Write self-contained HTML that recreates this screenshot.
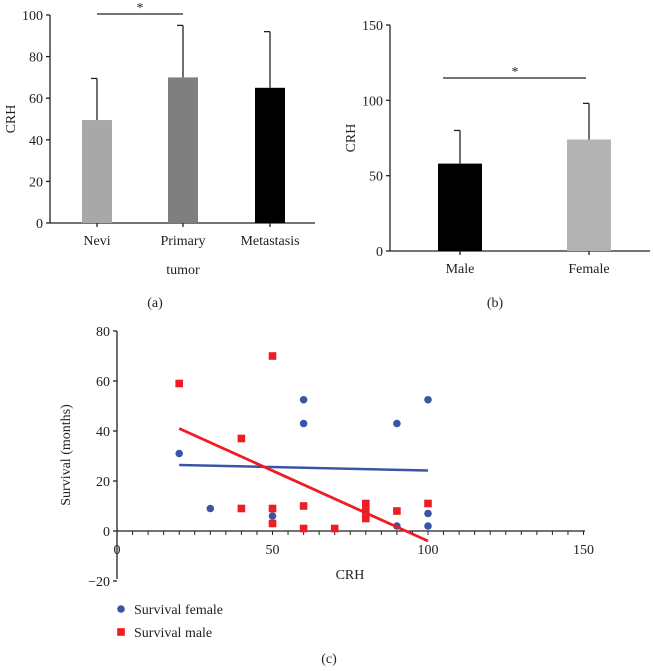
<!DOCTYPE html>
<html><head><meta charset="utf-8"><style>
body{margin:0;background:#fff}
svg{display:block;font-family:"Liberation Serif",serif;font-size:14px;fill:#222}
</style></head><body>
<svg id="s" width="653" height="671"></svg>
<script>
// Panel a
const catsA=["Nevi","Primary","Metastasis"];
const valsA=[49.5,70,65];
const errA=[69.5,95,92];
const colA=["#a8a8a8","#7f7f7f","#000"];
const ticksA=[0,20,40,60,80,100];
// Panel b
const catsB=["Male","Female"];
const valsB=[58,74];
const errB=[80,98];
const colB=["#000","#b3b3b3"];
const ticksB=[0,50,100,150];
// Panel c
const femX=[20,30,50,60,60,90,90,100,100,100];
const femY=[31,9,6,52.5,43,43,2,52.5,7,2];
const maleX=[20,40,40,50,50,50,60,60,70,80,80,80,90,100];
const maleY=[59,37,9,70,9,3,10,1,1,11,8,5,8,11];
const femFit=[[20,26.4],[100,24.2]];
const maleFit=[[20,41],[100,-4]];
const ticksCX=[0,50,100,150];
const ticksCY=[-20,0,20,40,60,80];

const s=document.getElementById('s');
const NS="http://www.w3.org/2000/svg";
function el(t,a,txt){const e=document.createElementNS(NS,t);for(const k in a)e.setAttribute(k,a[k]);if(txt!==undefined)e.textContent=txt;s.appendChild(e);return e;}
function line(x1,y1,x2,y2,c,w){return el('line',{x1,y1,x2,y2,stroke:c||'#222','stroke-width':w||1.3});}

// ---- Panel a
const ya=v=>223-v*2.08;
let e=line(50,15,50,223);
e=line(50,223,315,223);
ticksA.forEach(t=>{line(46,ya(t),50,ya(t));e=el('text',{x:43,y:ya(t)+5,'text-anchor':'end'},t);});
const cxA=[97,183,270];
catsA.forEach((c,i)=>{
 line(cxA[i],ya(valsA[i]),cxA[i],ya(errA[i]));line(cxA[i]-6,ya(errA[i]),cxA[i],ya(errA[i]));
 e=el('rect',{x:cxA[i]-15,y:ya(valsA[i]),width:30,height:ya(0)-ya(valsA[i]),fill:colA[i]});
 
 line(cxA[i],223,cxA[i],227);
 e=el('text',{x:cxA[i],y:245,'text-anchor':'middle'},c);
});
e=el('text',{x:183,y:274,'text-anchor':'middle'},'tumor');
line(97,14,183,14);
e=el('text',{x:140,y:12,'text-anchor':'middle'},'*');
e=el('text',{x:15,y:119,'text-anchor':'middle',transform:'rotate(-90 15 119)'},'CRH');
e=el('text',{x:155,y:307,'text-anchor':'middle'},'(a)');

// ---- Panel b
const yb=v=>251-v*(226/150);
e=line(390,25,390,251);
e=line(390,251,650,251);
ticksB.forEach(t=>{line(386,yb(t),390,yb(t));e=el('text',{x:383,y:yb(t)+5,'text-anchor':'end'},t);});
const cxB=[460,589];
catsB.forEach((c,i)=>{
 line(cxB[i],yb(valsB[i]),cxB[i],yb(errB[i]));line(cxB[i]-6,yb(errB[i]),cxB[i],yb(errB[i]));
 e=el('rect',{x:cxB[i]-22,y:yb(valsB[i]),width:44,height:yb(0)-yb(valsB[i]),fill:colB[i]});
 
 line(cxB[i],251,cxB[i],255);
 e=el('text',{x:cxB[i],y:273,'text-anchor':'middle'},c);
});
line(443,78,586,78);
e=el('text',{x:515,y:76,'text-anchor':'middle'},'*');
e=el('text',{x:355,y:138,'text-anchor':'middle',transform:'rotate(-90 355 138)'},'CRH');
e=el('text',{x:495,y:307,'text-anchor':'middle'},'(b)');

// ---- Panel c
const xc=v=>117+v*3.11, yc=v=>531-v*2.5;
e=line(117,331,117,579);
e=line(117,531,585,531);
for(let v=5;v<=150;v+=5)line(xc(v),531,xc(v),535,'#222',1);
ticksCY.forEach(t=>{line(113,yc(t),117,yc(t));e=el('text',{x:110,y:yc(t)+5,'text-anchor':'end'},t<0?'\u221220':t);});
ticksCX.forEach(t=>{e=el('text',{x:xc(t),y:554,'text-anchor':'middle'},t);});
femX.forEach((x,i)=>{e=el('circle',{cx:xc(x),cy:yc(femY[i]),r:3.8,fill:'#3a55a4'});});
maleX.forEach((x,i)=>{e=el('rect',{x:xc(x)-3.8,y:yc(maleY[i])-3.8,width:7.6,height:7.6,fill:'#ee1c25'});});
e=line(xc(femFit[0][0]),yc(femFit[0][1]),xc(femFit[1][0]),yc(femFit[1][1]),'#3a55a4',2.5);
e=line(xc(maleFit[0][0]),yc(maleFit[0][1]),xc(maleFit[1][0]),yc(maleFit[1][1]),'#ee1c25',2.8);
e=el('text',{x:350,y:579,'text-anchor':'middle'},'CRH');
e=el('text',{x:70,y:455,'text-anchor':'middle',transform:'rotate(-90 70 455)'},'Survival (months)');
e=el('circle',{cx:121,cy:609,r:3.8,fill:'#3a55a4'});
e=el('text',{x:134,y:614},'Survival female');
e=el('rect',{x:117.2,y:628.2,width:7.6,height:7.6,fill:'#ee1c25'});
e=el('text',{x:134,y:637},'Survival male');
e=el('text',{x:329,y:663,'text-anchor':'middle'},'(c)');
</script>
</body></html>
